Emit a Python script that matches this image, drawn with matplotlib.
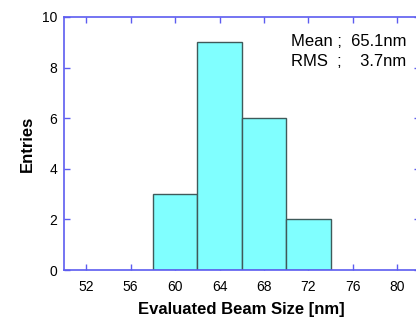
import matplotlib
matplotlib.use("Agg")
import matplotlib.pyplot as plt

plt.rcParams["font.family"] = ["Liberation Sans", "DejaVu Sans"]

bin_edges = [58, 62, 66, 70, 74]
entries = [3, 9, 6, 2]
x_ticks = [52, 56, 60, 64, 68, 72, 76, 80]
y_ticks = [0, 2, 4, 6, 8, 10]
AXIS_COLOR = "#5c5cf0"

fig = plt.figure(figsize=(4.16, 3.2), dpi=100)
ax = fig.add_axes([64 / 416, 50 / 320, 355.5 / 416, 253 / 320])

widths = [b - a for a, b in zip(bin_edges[:-1], bin_edges[1:])]
ax.bar(bin_edges[:-1], entries, width=widths, align="edge", color="#80ffff",
       edgecolor="#3f5a5a", linewidth=1.0, zorder=2)

ax.set_xlim(50, 82)
ax.set_ylim(0, 10)
ax.set_xticks(x_ticks)
ax.set_yticks(y_ticks)
ax.tick_params(direction="in", length=4, width=1, color=AXIS_COLOR, labelsize=10,
               top=True, right=True)
ax.tick_params(axis="x", pad=7)
ax.tick_params(axis="y", pad=5)
for spine in ax.spines.values():
    spine.set_color(AXIS_COLOR)
    spine.set_linewidth(1.2)

ax.set_xlabel("Evaluated Beam Size [nm]", fontsize=12, fontweight="bold", labelpad=6)
ax.set_ylabel("Entries", fontsize=12, fontweight="bold", labelpad=5)

fig.text(291 / 416, 1 - 42 / 320, "Mean ;  65.1nm", fontsize=12, va="center", ha="left")
fig.text(291 / 416, 1 - 62 / 320, "RMS  ;    3.7nm", fontsize=12, va="center", ha="left")

fig.savefig("out.png", dpi=100)
